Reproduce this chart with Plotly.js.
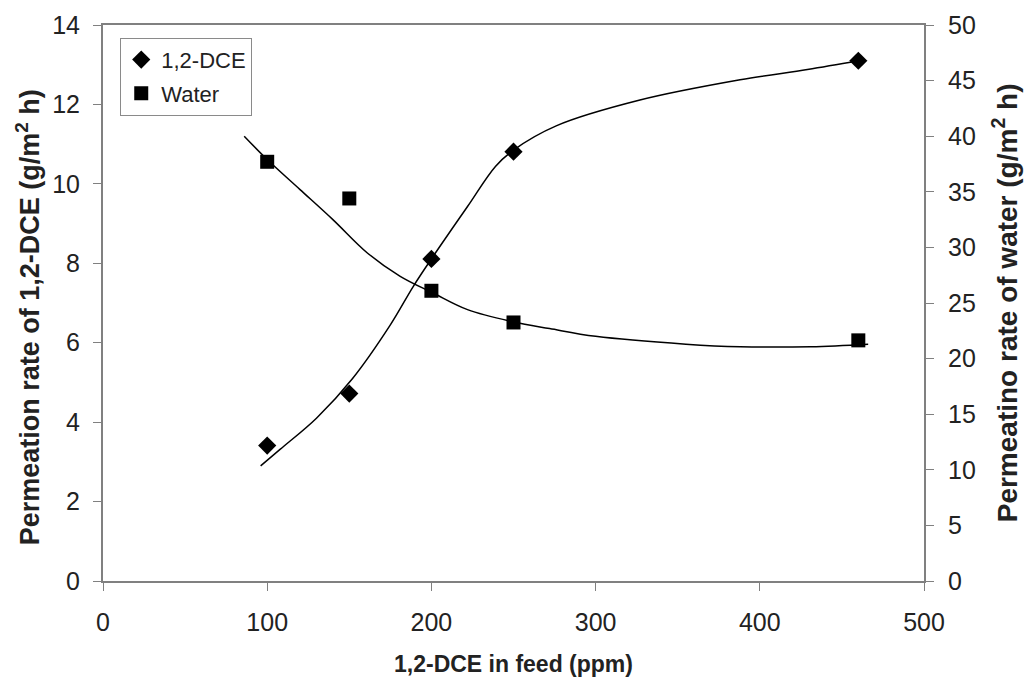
<!DOCTYPE html>
<html>
<head>
<meta charset="utf-8">
<script src="https://cdn.plot.ly/plotly-3.0.1.min.js"></script>
<style>html,body{margin:0;padding:0;background:#fff}#chart{width:1028px;height:677px}</style>
</head>
<body>
<div id="chart"></div>
<script>
// Measured data points
const feed = [100, 150, 200, 250, 460];
const dceRate = [3.41, 4.72, 8.11, 10.81, 13.10];
const waterRate = [37.7, 34.4, 26.1, 23.25, 21.64];

// Smoothed trend curves
const dceCurveX = [96, 108, 130, 152, 175, 189, 200, 222, 239, 250, 276, 327, 388, 429, 460];
const dceCurveY = [2.90, 3.32, 4.10, 5.10, 6.45, 7.42, 8.11, 9.43, 10.44, 10.85, 11.46, 12.11, 12.62, 12.88, 13.10];
const waterCurveX = [86, 100, 120, 140, 161, 181, 201, 222, 250, 272, 300, 355, 388, 431, 466];
const waterCurveY = [40.0, 37.9, 35.2, 32.5, 29.5, 27.4, 25.9, 24.4, 23.3, 22.7, 22.0, 21.3, 21.07, 21.07, 21.3];

const tickVals = [0, 100, 200, 300, 400, 500];
const xTitle = '<b>1,2-DCE in feed (ppm)</b>';
const yTitle = '<b>Permeation rate of 1,2-DCE (g/m<sup>2</sup> h)</b>';
const y2Title = '<b>Permeatino rate of water (g/m<sup>2</sup> h)</b>';

const FONT = 'Liberation Sans, Arial, sans-serif';
const AX = '#808080';
const TXT = '#222';

const traces = [
  {x: dceCurveX, y: dceCurveY, mode: 'lines', line: {color: '#000', width: 1.5, shape: 'spline', smoothing: 1}, showlegend: false, hoverinfo: 'skip', yaxis: 'y'},
  {x: waterCurveX, y: waterCurveY, mode: 'lines', line: {color: '#000', width: 1.5, shape: 'spline', smoothing: 1}, showlegend: false, hoverinfo: 'skip', yaxis: 'y2'},
  {x: feed, y: dceRate, name: '1,2-DCE', mode: 'markers', marker: {symbol: 'diamond', size: 14, color: '#000'}, yaxis: 'y', legendgroup: 'a'},
  {x: feed, y: waterRate, name: 'Water', mode: 'markers', marker: {symbol: 'square', size: 14, color: '#000'}, yaxis: 'y2', legendgroup: 'b'}
];

const axisCommon = {ticks: 'outside', ticklen: 8, tickcolor: AX, tickwidth: 1,
  showline: true, linecolor: AX, linewidth: 2, showgrid: false, zeroline: false,
  tickfont: {size: 25, color: TXT}};

const layout = {
  width: 1028, height: 677,
  margin: {l: 103, r: 104, t: 25, b: 96},
  paper_bgcolor: '#fff', plot_bgcolor: '#fff',
  font: {family: FONT, size: 22, color: TXT},
  showlegend: true,
  legend: {x: 0.021, y: 0.977, xanchor: 'left', yanchor: 'top', bordercolor: '#8a8a8a', borderwidth: 1, bgcolor: '#fff',
           font: {family: FONT, size: 22, color: TXT}, tracegroupgap: 2},
  xaxis: Object.assign({}, axisCommon, {range: [0, 500], tickvals: tickVals, mirror: true, ticklabelstandoff: 10}),
  yaxis: Object.assign({}, axisCommon, {range: [0, 14], dtick: 2, ticklabelstandoff: 8}),
  yaxis2: Object.assign({}, axisCommon, {range: [0, 50], dtick: 5, overlaying: 'y', side: 'right', ticklabelstandoff: 9}),
  annotations: [
    {text: xTitle, xref: 'paper', yref: 'paper', x: 0.5, y: -0.150, xanchor: 'center', yanchor: 'middle', showarrow: false, font: {size: 23, color: TXT}},
    {text: yTitle, xref: 'paper', yref: 'paper', x: -0.092, y: 0.475, xanchor: 'center', yanchor: 'middle', textangle: -90, showarrow: false, font: {size: 27, color: TXT}},
    {text: y2Title, xref: 'paper', yref: 'paper', x: 1.099, y: 0.50, xanchor: 'center', yanchor: 'middle', textangle: -90, showarrow: false, font: {size: 28, color: TXT}}
  ]
};

Plotly.newPlot('chart', traces, layout, {displayModeBar: false, staticPlot: true});
</script>
</body>
</html>
